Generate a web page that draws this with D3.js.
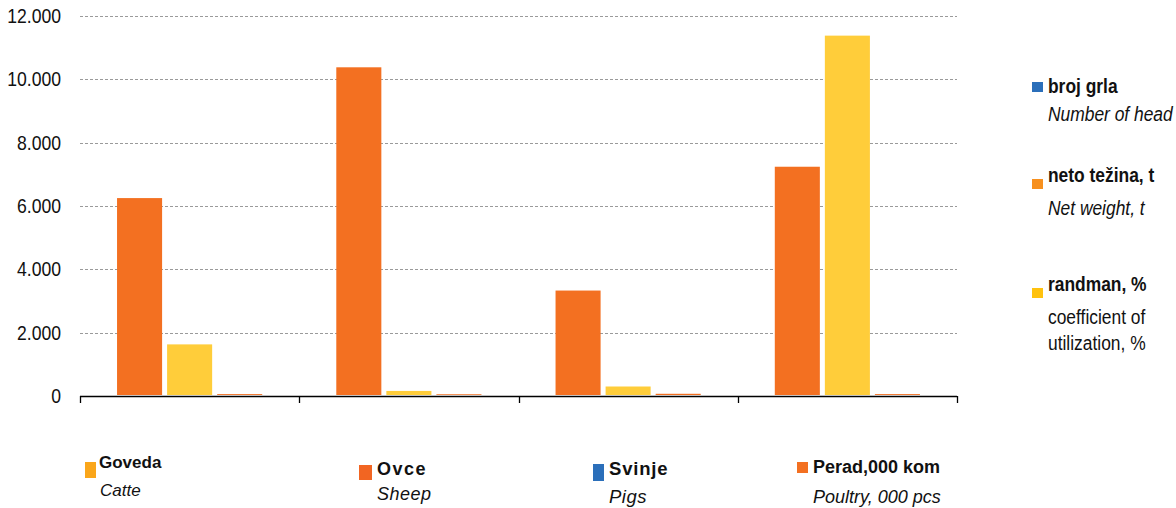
<!DOCTYPE html>
<html>
<head>
<meta charset="utf-8">
<script src="https://cdn.jsdelivr.net/npm/d3@7"></script>
<style>
  html, body { margin: 0; padding: 0; background: #fff; }
  svg { display: block; font-family: "Liberation Sans", Arial, sans-serif; }
</style>
</head>
<body>
<svg id="chart" width="1176" height="508"></svg>
<script>
// ---- data ----
const categories = ["Goveda", "Ovce", "Svinje", "Perad"];
const seriesNames = ["s1", "s2", "s3"];
const series1 = [6250, 10380, 3330, 7240];   // orange bars
const series2 = [1630, 160, 300, 11380];     // yellow bars
const series3 = [60, 55, 70, 60];            // small bars
const yTicks = [0, 2000, 4000, 6000, 8000, 10000, 12000];
const yTickLabels = ["0", "2.000", "4.000", "6.000", "8.000", "10.000", "12.000"];
const seriesColors = ["#F37021", "#FFCD3A", "#F37021"];

const rightLegendTitles = ["broj grla", "neto težina, t", "randman, %"];
const rightLegendSubs = [["Number of head"], ["Net weight, t"], ["coefficient of", "utilization, %"]];
const rightLegendColors = ["#2B6FBA", "#F7901E", "#FFC20E"];

const bottomTitles = ["Goveda", "Ovce", "Svinje", "Perad,000 kom"];
const bottomSubs = ["Catte", "Sheep", "Pigs", "Poultry, 000 pcs"];
const bottomColors = ["#FAA61A", "#F26522", "#2B6FBA", "#F37021"];

// ---- layout ----
const svg = d3.select("#chart");
const x0 = 80, x1 = 957, yTop = 16, yBottom = 396;

const x = d3.scaleBand().domain(categories).range([x0, x1]).padding(0);
const xi = d3.scaleBand().domain(seriesNames).range([0, x.bandwidth()])
  .paddingInner(0.1).paddingOuter(0.74);
const y = d3.scaleLinear().domain([0, 12000]).range([yBottom, yTop]);

// gridlines
svg.append("g").selectAll("line")
  .data(yTicks.filter(d => d > 0))
  .join("line")
  .attr("x1", x0).attr("x2", x1)
  .attr("y1", d => Math.round(y(d)) + 0.5).attr("y2", d => Math.round(y(d)) + 0.5)
  .attr("stroke", "#9a9a9a").attr("stroke-width", 1)
  .attr("stroke-dasharray", "3,2");

// y labels
svg.append("g").selectAll("text")
  .data(yTicks)
  .join("text")
  .attr("transform", d => `translate(61,${y(d) + 7}) scale(0.88,1)`)
  .attr("text-anchor", "end")
  .attr("font-size", 20)
  .attr("fill", "#111")
  .text((d, i) => yTickLabels[i]);

// bars
const seriesData = [series1, series2, series3];
const groups = svg.append("g").selectAll("g")
  .data(categories)
  .join("g")
  .attr("transform", d => `translate(${x(d)},0)`);

groups.selectAll("rect")
  .data((c, ci) => seriesNames.map((s, si) => ({ s, si, v: seriesData[si][ci] })))
  .join("rect")
  .attr("x", d => xi(d.s))
  .attr("width", xi.bandwidth())
  .attr("y", d => y(d.v))
  .attr("height", d => y(0) - y(d.v) - 1)
  .attr("fill", d => seriesColors[d.si]);

// x axis
const xAxis = d3.axisBottom(x).tickValues([]).tickSizeOuter(0);
svg.append("line")
  .attr("x1", x0).attr("x2", x1)
  .attr("y1", yBottom + 0.5).attr("y2", yBottom + 0.5)
  .attr("stroke", "#000").attr("stroke-width", 1.3);
const boundaries = categories.map(c => x(c)).concat([x1]);
svg.append("g").selectAll("line")
  .data(boundaries)
  .join("line")
  .attr("x1", d => Math.round(d) + 0.5).attr("x2", d => Math.round(d) + 0.5)
  .attr("y1", yBottom).attr("y2", yBottom + 7)
  .attr("stroke", "#000").attr("stroke-width", 1.3);

// right legend
const rl = [
  { sq: [1032, 82, 11, 10], t: [1048, 93], subs: [121] },
  { sq: [1032, 179, 11, 10], t: [1048, 182], subs: [215] },
  { sq: [1032, 288, 11, 10], t: [1048, 291], subs: [324, 350] }
];
rl.forEach((p, i) => {
  svg.append("rect").attr("x", p.sq[0]).attr("y", p.sq[1]).attr("width", p.sq[2]).attr("height", p.sq[3])
    .attr("fill", rightLegendColors[i]);
  svg.append("text").attr("transform", `translate(${p.t[0]},${p.t[1]}) scale(0.87,1)`)
    .attr("font-size", 20).attr("font-weight", "bold").attr("fill", "#111")
    .text(rightLegendTitles[i]);
  rightLegendSubs[i].forEach((s, k) => {
    svg.append("text").attr("transform", `translate(${p.t[0]},${p.subs[k]}) scale(0.87,1)`)
      .attr("font-size", 20).attr("fill", "#111")
      .attr("font-style", i < 2 ? "italic" : "normal")
      .text(s);
  });
});

// bottom legend
const bl = [
  { sq: [85, 462, 11, 16], tx: 99, ty: 468, sx: 100, sy: 496, fs: 17, ls: 0 },
  { sq: [359, 465, 13, 15], tx: 377, ty: 475, sx: 377, sy: 500, fs: 18, ls: 1.5 },
  { sq: [593, 464, 11, 17], tx: 609, ty: 475, sx: 609, sy: 503, fs: 18.5, ls: 0.8 },
  { sq: [797, 462, 11, 11], tx: 813, ty: 473, sx: 813, sy: 503, fs: 18, ls: 0 }
];
bl.forEach((p, i) => {
  svg.append("rect").attr("x", p.sq[0]).attr("y", p.sq[1]).attr("width", p.sq[2]).attr("height", p.sq[3])
    .attr("fill", bottomColors[i]);
  svg.append("text").attr("x", p.tx).attr("y", p.ty)
    .attr("font-size", p.fs).attr("font-weight", "bold").attr("fill", "#111")
    .attr("letter-spacing", p.ls)
    .text(bottomTitles[i]);
  svg.append("text").attr("x", p.sx).attr("y", p.sy)
    .attr("font-size", p.fs).attr("font-style", "italic").attr("fill", "#111")
    .attr("letter-spacing", p.ls > 0 ? 0.5 : 0)
    .text(bottomSubs[i]);
});
</script>
</body>
</html>
